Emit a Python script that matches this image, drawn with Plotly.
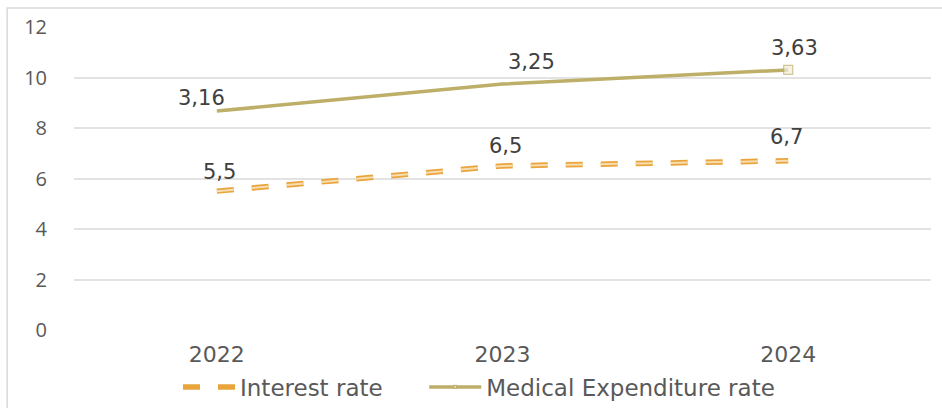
import plotly.graph_objects as go

years = ["2022", "2023", "2024"]
interest_rate = [5.5, 6.5, 6.7]
interest_labels = ["5,5", "6,5", "6,7"]
medical_rate = [8.67, 9.74, 10.3]
medical_labels = ["3,16", "3,25", "3,63"]
y_ticks = [0, 2, 4, 6, 8, 10, 12]

xpos = list(range(len(years)))

ORANGE = "#E9A43C"
ORANGE_FILL = "#F7DDB0"
OLIVE = "#BDAE68"
NB = "\u00a0"

fig = go.Figure()

fig.add_trace(go.Scatter(
    x=xpos, y=interest_rate, mode="lines", name="Interest rate" + NB * 5,
    line=dict(color=ORANGE, width=5.5, dash="17px,18px"),
    legendgroup="ir", showlegend=True,
))
fig.add_trace(go.Scatter(
    x=xpos, y=interest_rate, mode="lines", name="Interest rate",
    line=dict(color=ORANGE_FILL, width=2, dash="17px,18px"),
    legendgroup="ir", showlegend=False, hoverinfo="skip",
))
fig.add_trace(go.Scatter(
    x=xpos, y=medical_rate, mode="lines+markers", name="Medical Expenditure rate",
    line=dict(color=OLIVE, width=3.5),
    marker=dict(symbol="square", size=[0, 0, 9], color="#F2EEDB",
                line=dict(color=OLIVE, width=1.2)),
))

label_font = dict(family="DejaVu Sans", size=21, color="#404040")
med_shifts = [(-15, 13), (29, 22), (6, 22)]
ir_shifts = [(3, 19), (3, 20), (-2, 24)]
for xv, yv, t, (dx, dy) in zip(xpos, medical_rate, medical_labels, med_shifts):
    fig.add_annotation(x=xv, y=yv, text=t, showarrow=False, xshift=dx, yshift=dy,
                       font=label_font)
for xv, yv, t, (dx, dy) in zip(xpos, interest_rate, interest_labels, ir_shifts):
    fig.add_annotation(x=xv, y=yv, text=t, showarrow=False, xshift=dx, yshift=dy,
                       font=label_font)

fig.add_shape(type="rect", xref="paper", yref="paper",
              x0=-0.078, x1=1.02, y0=-0.3, y1=1.063,
              line=dict(color="#D9D9D9", width=1.5), layer="below")

fig.update_layout(
    width=942, height=408,
    margin=dict(l=74, r=11, t=27, b=78, autoexpand=False),
    paper_bgcolor="white", plot_bgcolor="white",
    showlegend=True,
    legend=dict(orientation="h", xref="container", yref="container",
                x=178 / 942, xanchor="left", y=1 - 387 / 408, yanchor="middle",
                font=dict(family="DejaVu Sans", size=23, color="#595959"),
                itemwidth=52, tracegroupgap=0),
    xaxis=dict(range=[-0.5, 2.5], tickvals=xpos, ticktext=years, automargin=False,
               showgrid=False, showline=False, zeroline=False,
               tickfont=dict(family="DejaVu Sans", size=22, color="#595959"),
               ticks="", ticklabelstandoff=9),
    yaxis=dict(range=[0, 12], tickvals=y_ticks, showgrid=True, gridcolor="#E3E3E3",
               gridwidth=1.5, zeroline=False, showline=False, automargin=False,
               tickfont=dict(family="Open Sans", size=20, color="#595959"),
               ticks="", ticklabelstandoff=26),
)

fig.write_html("out.html")
